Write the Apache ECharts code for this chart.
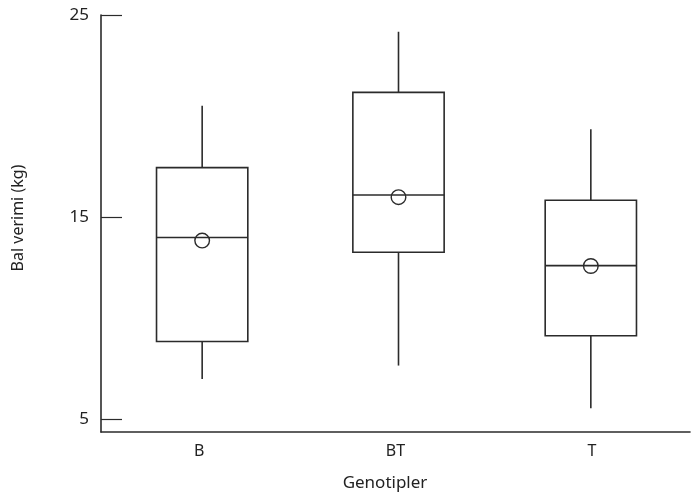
<!DOCTYPE html>
<html>
<head>
<meta charset="utf-8">
<script src="https://cdn.jsdelivr.net/npm/echarts@6/dist/echarts.min.js"></script>
<style>html,body{margin:0;padding:0;background:#fff}#c{width:692px;height:497px}</style>
</head>
<body>
<div id="c"></div>
<script>
const categories = ['B', 'BT', 'T'];
const whiskerLow = [6.98, 7.64, 5.53];
const q1 = [8.83, 13.25, 9.12];
const median = [13.98, 16.09, 12.59];
const q3 = [17.44, 21.17, 15.83];
const whiskerHigh = [20.50, 24.17, 19.34];
const means = [13.83, 15.98, 12.57];
const yTicks = [5, 15, 25];

const lineColor = '#2b2b2b';
const textColor = '#222';
const fontFamily = '"Noto Sans", sans-serif';

const data = categories.map((c, i) => [i, whiskerLow[i], q1[i], median[i], q3[i], whiskerHigh[i], means[i]]);

function renderItem(params, api) {
  const x = api.value(0);
  const p = v => api.coord([x, v]);
  const cx = p(api.value(3))[0] + (params.dataIndex === 2 ? -1 : 3);
  const half = api.size([1, 0])[0] * 0.465 / 2;
  const yLow = p(api.value(1))[1];
  const yQ1 = p(api.value(2))[1];
  const yMed = p(api.value(3))[1];
  const yQ3 = p(api.value(4))[1];
  const yHigh = p(api.value(5))[1];
  const yMean = p(api.value(6))[1];
  const st = { stroke: lineColor, lineWidth: 1.6, fill: null };
  return {
    type: 'group',
    children: [
      { type: 'line', shape: { x1: cx, y1: yHigh, x2: cx, y2: yQ3 }, style: st },
      { type: 'line', shape: { x1: cx, y1: yQ1, x2: cx, y2: yLow }, style: st },
      { type: 'rect', shape: { x: cx - half, y: yQ3, width: half * 2, height: yQ1 - yQ3 }, style: { stroke: lineColor, lineWidth: 1.6, fill: '#fff' } },
      { type: 'line', shape: { x1: cx - half, y1: yMed, x2: cx + half, y2: yMed }, style: st },
      { type: 'circle', shape: { cx: cx, cy: yMean, r: 7.3 }, style: { stroke: lineColor, lineWidth: 1.4, fill: 'none' } }
    ]
  };
}

const chart = echarts.init(document.getElementById('c'));
chart.setOption({
  animation: false,
  grid: { left: 101, right: 2, top: 15, bottom: 65 },
  xAxis: {
    type: 'category',
    data: categories,
    boundaryGap: true,
    axisLine: { lineStyle: { color: lineColor, width: 1.6 } },
    axisTick: { alignWithLabel: true, inside: true, length: 21, lineStyle: { color: lineColor, width: 1.2 } },
    axisLabel: { color: textColor, fontSize: 16, fontFamily: fontFamily, margin: 11 },
    splitLine: { show: false }
  },
  yAxis: {
    type: 'value',
    min: 4.35,
    max: 25,
    axisLine: { show: true, lineStyle: { color: lineColor, width: 1.6 } },
    axisTick: { show: true, inside: true, length: 21, customValues: yTicks, lineStyle: { color: lineColor, width: 1.2 } },
    axisLabel: { color: textColor, fontSize: 17, fontFamily: fontFamily, margin: 12, customValues: yTicks },
    splitLine: { show: false }
  },
  graphic: [
    { type: 'text', x: 385, y: 483, style: { text: 'Genotipler', fontSize: 17, fontFamily: fontFamily, fill: textColor, align: 'center', verticalAlign: 'middle' } },
    { type: 'text', x: 18, y: 218, rotation: Math.PI / 2, style: { text: 'Bal verimi (kg)', fontSize: 16, fontFamily: fontFamily, fill: textColor, align: 'center', verticalAlign: 'middle' } }
  ],
  series: [{
    type: 'custom',
    renderItem: renderItem,
    encode: { x: 0, y: [1, 2, 3, 4, 5, 6] },
    data: data
  }]
});
</script>
</body>
</html>
